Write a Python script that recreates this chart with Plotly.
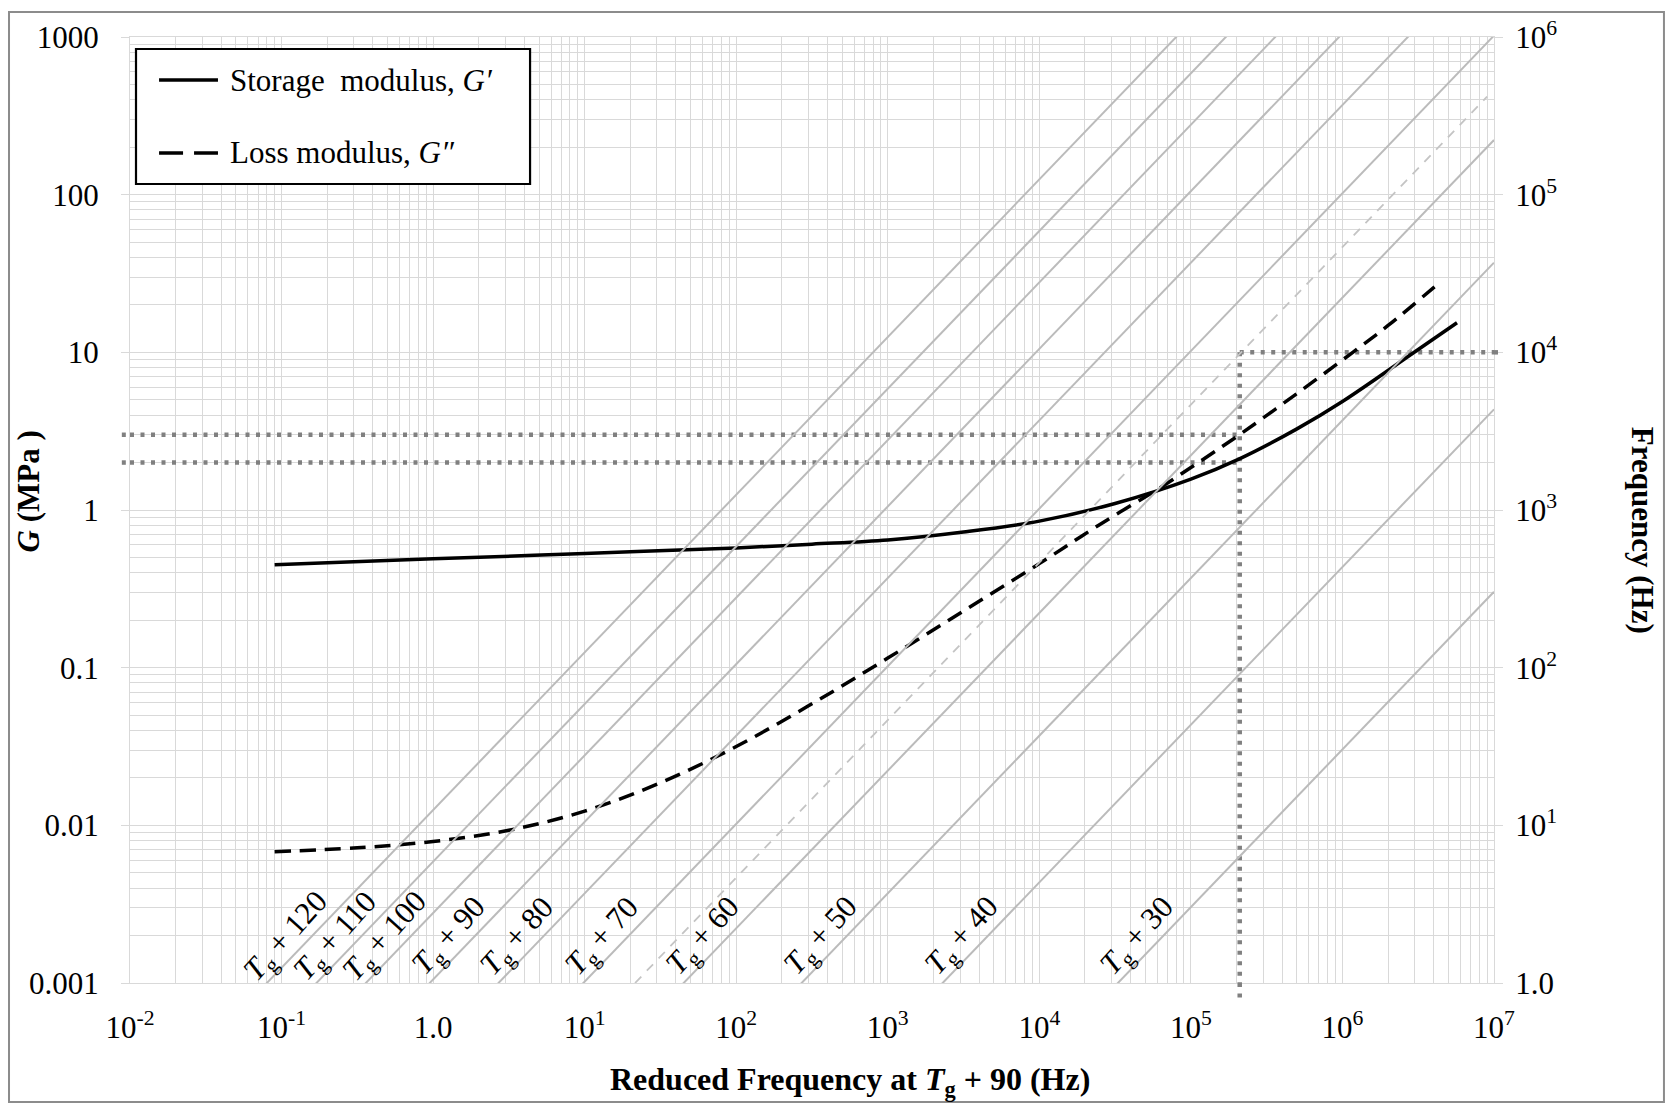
import math
import plotly.graph_objects as go

# ---------------- data ----------------
freq_storage = [0.09, 1, 10, 100, 316, 1000, 3160, 1e4, 3.16e4, 1e5, 2.09e5, 5.01e5, 1e6, 2.88e6, 5.7e6]
storage_modulus = [0.45, 0.49, 0.53, 0.575, 0.607, 0.645, 0.725, 0.85, 1.10, 1.57, 2.11, 3.27, 4.88, 9.8, 15.4]

freq_loss = [0.09, 0.316, 1, 3.16, 10, 31.6, 100, 316, 1000, 3160, 1e4, 2.51e4, 6.31e4, 1e5, 2.09e5, 5.01e5,
             1.17e6, 2e6, 4.4e6]
loss_modulus = [0.0068, 0.0072, 0.0079, 0.0093, 0.0123, 0.0186, 0.0316, 0.059, 0.115, 0.229, 0.457, 0.81,
                1.39, 1.86, 3.0, 5.48, 10.0, 14.8, 27.8]

temp_offsets = ["120", "110", "100", "90", "80", "70", "60", "50", "40", "30"]
shift_factors = [0.08, 0.17, 0.36, 0.95, 2.7, 9.8, 45, 270, 2300, 33000]   # reduced freq at 1 Hz
dashed_shift = 21.5
dashed_end = 9e6

x_mark = 2.1e5
g_marks = [3, 2]
g_mark_top = 10

x_ticks = [1e-2, 1e-1, 1, 1e1, 1e2, 1e3, 1e4, 1e5, 1e6, 1e7]
x_ticktext = ["10<sup>-2</sup>", "10<sup>-1</sup>", "1.0", "10<sup>1</sup>", "10<sup>2</sup>",
              "10<sup>3</sup>", "10<sup>4</sup>", "10<sup>5</sup>", "10<sup>6</sup>", "10<sup>7</sup>"]
y_ticks = [1e-3, 1e-2, 1e-1, 1, 10, 100, 1000]
y_ticktext = ["0.001", "0.01", "0.1", "1", "10", "100", "1000"]
y2_ticks = [1, 10, 100, 1e3, 1e4, 1e5, 1e6]
y2_ticktext = ["1.0", "10<sup>1</sup>", "10<sup>2</sup>", "10<sup>3</sup>", "10<sup>4</sup>",
               "10<sup>5</sup>", "10<sup>6</sup>"]

# ---------------- styles ----------------
FONT = "Liberation Serif"
GRID = "#d9d9d9"
DIAG = "#bbbbbb"
DOT = "#808080"

fig = go.Figure()

# diagonal iso-temperature lines (frequency = reduced frequency / aT)
for aT in shift_factors:
    xs = [1e-2, 1e7]
    fig.add_trace(go.Scatter(x=xs, y=[v / aT for v in xs], yaxis="y2", mode="lines",
                             line=dict(color=DIAG, width=2), showlegend=False, hoverinfo="skip"))
xs = [dashed_shift, dashed_end]
fig.add_trace(go.Scatter(x=xs, y=[v / dashed_shift for v in xs], yaxis="y2", mode="lines",
                         line=dict(color="#c4c4c4", width=1.8, dash="9px,8px"),
                         showlegend=False, hoverinfo="skip"))

# dotted reference lines
dot_line = dict(color=DOT, width=4.5, dash="4px,6.5px")
for g in g_marks:
    fig.add_trace(go.Scatter(x=[1e-2, x_mark], y=[g, g], mode="lines", line=dot_line,
                             showlegend=False, hoverinfo="skip"))
fig.add_trace(go.Scatter(x=[x_mark, x_mark], y=[g_mark_top, 1e-3], mode="lines", line=dot_line,
                         showlegend=False, hoverinfo="skip"))
fig.add_trace(go.Scatter(x=[x_mark, 1e7], y=[g_mark_top, g_mark_top], mode="lines", line=dot_line,
                         showlegend=False, hoverinfo="skip"))

# moduli
fig.add_trace(go.Scatter(x=freq_storage, y=storage_modulus, mode="lines", name="Storage modulus, G′",
                         line=dict(color="black", width=3.5, shape="spline", smoothing=1.0),
                         showlegend=False))
fig.add_trace(go.Scatter(x=freq_loss, y=loss_modulus, mode="lines", name="Loss modulus, G″",
                         line=dict(color="black", width=3.5, shape="spline", smoothing=1.0, dash="16px,9px"),
                         showlegend=False))

shapes = []
# extensions of dotted lines outside the plot area
for g in g_marks:
    shapes.append(dict(type="line", xref="paper", yref="y", x0=-0.006, x1=0, y0=g, y1=g, line=dot_line))
shapes.append(dict(type="line", xref="paper", yref="y", x0=1, x1=1.007, y0=g_mark_top, y1=g_mark_top, line=dot_line))
shapes.append(dict(type="line", xref="x", yref="paper", x0=x_mark, x1=x_mark, y0=0, y1=-0.018, line=dot_line))

# outer frame
shapes.append(dict(type="rect", xref="paper", yref="paper", x0=-0.0887, x1=1.1246, y0=-0.1258, y1=1.0264,
                   line=dict(color="#8c8c8c", width=2)))
# legend box
shapes.append(dict(type="rect", xref="paper", yref="paper", x0=0.0044, x1=0.2933, y0=0.8446, y1=0.9873,
                   line=dict(color="black", width=2.2), fillcolor="white", layer="above"))
shapes.append(dict(type="line", xref="paper", yref="paper", x0=0.0213, x1=0.0645, y0=0.9545, y1=0.9545,
                   line=dict(color="black", width=3.5), layer="above"))
shapes.append(dict(type="line", xref="paper", yref="paper", x0=0.0213, x1=0.0645, y0=0.8774, y1=0.8774,
                   line=dict(color="black", width=3.5, dash="24px,11px"), layer="above"))

annotations = []
annotations.append(dict(text="Storage\u00a0 modulus, <i>G′</i>", xref="paper", yref="paper", x=0.0718, y=0.9545,
                        xanchor="left", yanchor="middle", showarrow=False,
                        font=dict(family=FONT, size=31, color="black")))
annotations.append(dict(text="Loss modulus, <i>G″</i>", xref="paper", yref="paper", x=0.0718, y=0.8774,
                        xanchor="left", yanchor="middle", showarrow=False,
                        font=dict(family=FONT, size=31, color="black")))

for lab, aT in zip(temp_offsets, shift_factors):
    annotations.append(dict(text="<i>T</i><sub>g</sub> + " + lab, x=math.log10(aT), y=-3, xref="x", yref="y",
                            xanchor="center", yanchor="middle",
                            showarrow=False, textangle=-48, xshift=20, yshift=46,
                            font=dict(family=FONT, size=31, color="black")))

# axis titles
annotations.append(dict(text="<b>Reduced Frequency at <i>T</i><sub>g</sub> + 90 (Hz)</b>", xref="paper", yref="paper",
                        x=0.528, y=-0.1045, xanchor="center", yanchor="middle", showarrow=False,
                        font=dict(family=FONT, size=32, color="black")))
annotations.append(dict(text="<b><i>G</i> (MPa )</b>", xref="paper", yref="paper", x=-0.0745, y=0.52,
                        xanchor="center", yanchor="middle",
                        textangle=-90, showarrow=False, font=dict(family=FONT, size=31, color="black")))
annotations.append(dict(text="<b>Frequency (Hz)</b>", xref="paper", yref="paper", x=1.1085, y=0.478,
                        xanchor="center", yanchor="middle",
                        textangle=90, showarrow=False, font=dict(family=FONT, size=31, color="black")))

minor_x = [m * 10 ** k for k in range(-2, 7) for m in range(2, 10)]
minor_y = [m * 10 ** k for k in range(-3, 3) for m in range(2, 10)]

fig.update_layout(
    width=1667, height=1105,
    margin=dict(l=130, r=173, t=37, b=122, autoexpand=False),
    paper_bgcolor="white", plot_bgcolor="white",
    font=dict(family=FONT, size=31, color="black"),
    showlegend=False,
    shapes=shapes, annotations=annotations,
    xaxis=dict(type="log", range=[-2, 7], tickvals=x_ticks, ticktext=x_ticktext,
               showgrid=True, gridcolor=GRID, gridwidth=1,
               minor=dict(tickvals=minor_x, showgrid=True, gridcolor=GRID, gridwidth=1, ticks=""),
               showline=True, linecolor=GRID, linewidth=1, mirror=True,
               ticks="", ticklabelstandoff=17, zeroline=False, automargin=False,
               tickfont=dict(family=FONT, size=31)),
    yaxis=dict(type="log", range=[-3, 3], tickvals=y_ticks, ticktext=y_ticktext,
               showgrid=True, gridcolor=GRID, gridwidth=1,
               minor=dict(tickvals=minor_y, showgrid=True, gridcolor=GRID, gridwidth=1, ticks=""),
               showline=True, linecolor=GRID, linewidth=1, mirror=True,
               ticks="outside", ticklen=8, tickcolor=GRID, ticklabelstandoff=16,
               zeroline=False, automargin=False, tickfont=dict(family=FONT, size=31)),
    yaxis2=dict(type="log", range=[0, 6], overlaying="y", side="right", tickvals=y2_ticks, ticktext=y2_ticktext,
                showgrid=False, ticks="outside", ticklen=8, tickcolor=GRID, ticklabelstandoff=6,
                zeroline=False, automargin=False, tickfont=dict(family=FONT, size=31)),
)

fig.write_html("out.html")
